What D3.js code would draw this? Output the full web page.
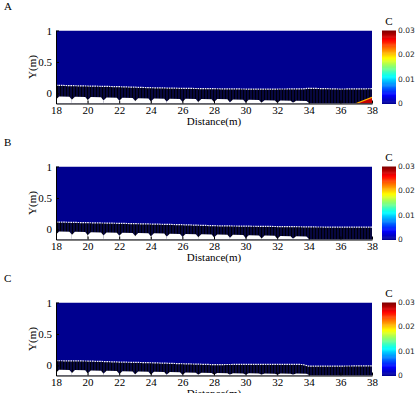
<!DOCTYPE html>
<html>
<head>
<meta charset="utf-8">
<script src="https://cdn.jsdelivr.net/npm/d3@7"></script>
<style>
  html, body { margin: 0; padding: 0; background: #fff; }
  svg { display: block; }
</style>
</head>
<body>
<svg id="chart" width="417" height="393"></svg>
<script>
// ---------------- data ----------------
const panelNames = ["A", "B", "C"];
const distTicks = [18, 20, 22, 24, 26, 28, 30, 32, 34, 36, 38];
const yTicks = [0, 0.5, 1];
const cTicks = [0, 0.01, 0.02, 0.03];
const cTickLabels = ["0", "0.01", "0.02", "0.03"];

// bed surface (white dotted line)
const surfX = [18, 20, 22, 24, 26, 28, 30, 32, 33.6, 34, 36, 38];
const surfA = [0.129, 0.118, 0.107, 0.091, 0.081, 0.075, 0.070, 0.070, 0.072, 0.082, 0.070, 0.075];
const surfB = [0.118, 0.107, 0.097, 0.086, 0.075, 0.059, 0.052, 0.046, 0.042, 0.040, 0.036, 0.036];
const surfC = [0.075, 0.070, 0.054, 0.043, 0.027, 0.013, 0.017, 0.017, 0.015, -0.010, -0.010, -0.006];

// ripples (white, below the sediment layer): start of each ripple and crest level
const rippleX = [18, 19, 20, 21, 22, 23, 24, 25, 26, 27, 28, 29, 30, 31, 32, 33];
const crestA = [-0.052, -0.057, -0.062, -0.068, -0.073, -0.079, -0.084, -0.087, -0.090, -0.092, -0.094, -0.100, -0.106, -0.112, -0.116, -0.120];
const crestB = [-0.037, -0.042, -0.047, -0.052, -0.057, -0.062, -0.066, -0.071, -0.075, -0.080, -0.084, -0.090, -0.096, -0.102, -0.107, -0.112];
const crestC = [-0.073, -0.078, -0.084, -0.089, -0.095, -0.100, -0.105, -0.110, -0.115, -0.121, -0.126, -0.128, -0.130, -0.131, -0.132, -0.133];
const troughDrop = 0.045;

// concentration hot spot in panel A (bottom right)
const spotX = [37.0, 38.0, 38.0];
const spotY = [-0.16, -0.062, -0.16];
const spotC = 0.028;

const surfaces = [surfA, surfB, surfC];
const crests = [crestA, crestB, crestC];

// ---------------- layout ----------------
const svg = d3.select("#chart");
const plotLeft = 56, plotRight = 372, plotH = 73;
const panelTops = [30.5, 166.5, 302.5];
const yMin = -0.16, yMax = 1;
const cbX = 382, cbW = 14;
const serif = "'Liberation Serif', 'Times New Roman', serif";

// jet colormap
const jetStops = [[0,0,143],[0,0,255],[0,255,255],[255,255,0],[255,0,0],[128,0,0]];
const jetPos = [0, 1/8, 3/8, 5/8, 7/8, 1];
const cScale = d3.scaleLinear().domain([0, 0.03]).range([0, 1]).clamp(true);
const jetInterp = d3.scaleLinear().domain(jetPos).range(jetStops.map(c => `rgb(${c[0]},${c[1]},${c[2]})`)).interpolate(d3.interpolateRgb);
const color = v => jetInterp(cScale(v));

const defs = svg.append("defs");
const pat = defs.append("pattern").attr("id", "sed").attr("patternUnits", "userSpaceOnUse")
  .attr("width", 3).attr("height", 4);
pat.append("rect").attr("width", 3).attr("height", 4).attr("fill", "#07073f");
pat.append("rect").attr("width", 1).attr("height", 4).attr("fill", "#000008");

const x = d3.scaleLinear().domain([18, 38]).range([plotLeft, plotRight]);

panelNames.forEach((name, i) => {
  const top = panelTops[i];
  const bottom = top + plotH;
  const y = d3.scaleLinear().domain([yMin, yMax]).range([bottom, top]);
  const g = svg.append("g");

  defs.append("clipPath").attr("id", "clip" + i)
    .append("rect").attr("x", plotLeft).attr("y", top).attr("width", plotRight - plotLeft).attr("height", plotH);
  const pg = g.append("g").attr("clip-path", `url(#clip${i})`);

  // background: C = 0
  pg.append("rect").attr("x", x(18)).attr("y", y(yMax))
    .attr("width", x(38) - x(18)).attr("height", y(yMin) - y(yMax)).attr("fill", color(0));

  // sediment layer below the bed surface
  const surf = surfaces[i];
  const surfPts = surfX.map((d, k) => [d, surf[k]]);
  const area = d3.area().x(d => x(d[0])).y0(y(yMin)).y1(d => y(d[1]));
  pg.append("path").datum(surfPts).attr("d", area).attr("fill", "url(#sed)");

  // ripples (white)
  const cr = crests[i];
  rippleX.forEach((rx, k) => {
    const trough = Math.max(cr[k] - troughDrop, yMin + 0.012);
    const pts = [[rx, yMin], [rx, trough], [rx + 0.2, cr[k] + 0.004], [rx + 0.85, cr[k]], [rx + 1, trough], [rx + 1, yMin]];
    pg.append("path")
      .attr("d", d3.line().x(d => x(d[0])).y(d => y(d[1]))(pts) + "Z")
      .attr("fill", "#ffffff");
  });
  pg.append("rect").attr("x", x(18)).attr("y", y(yMin + 0.012))
    .attr("width", x(33.8) - x(18)).attr("height", y(yMin) - y(yMin + 0.012)).attr("fill", "#fff");

  // hot spot in panel A
  if (i === 0) {
    const sp = spotX.map((d, k) => [d, spotY[k]]);
    pg.append("path").attr("d", d3.line().x(d => x(d[0])).y(d => y(d[1]))(sp) + "Z")
      .attr("fill", color(spotC));
    pg.append("path").attr("d", d3.line().x(d => x(d[0])).y(d => y(d[1]))(sp.slice(0, 2)))
      .attr("stroke", color(0.021)).attr("stroke-width", 1.2).attr("fill", "none");
  }

  // bed surface line
  pg.append("path").datum(surfPts)
    .attr("d", d3.line().x(d => x(d[0])).y(d => y(d[1])))
    .attr("fill", "none").attr("stroke", "#f4f4fa").attr("stroke-width", 1.2)
    .attr("stroke-dasharray", "1.6,0.8");

  // axes
  const xAxis = g.append("g").attr("transform", `translate(0,${bottom})`)
    .call(d3.axisBottom(x).tickValues(distTicks).tickFormat(d3.format("d")).tickSizeInner(-3).tickSizeOuter(0).tickPadding(2.5));
  const yAxis = g.append("g").attr("transform", `translate(${plotLeft},0)`)
    .call(d3.axisLeft(y).tickValues(yTicks).tickFormat(d => d === 0.5 ? "0.5" : String(d)).tickSizeInner(-3).tickSizeOuter(0).tickPadding(4));
  [xAxis, yAxis].forEach(a => {
    a.selectAll("text").attr("font-family", serif).attr("font-size", 11).attr("fill", "#000");
    a.selectAll("line").attr("stroke", "#000");
    a.select(".domain").attr("stroke", "#000");
  });

  g.append("text").attr("x", (plotLeft + plotRight) / 2).attr("y", bottom + 21.5)
    .attr("text-anchor", "middle").attr("font-family", serif).attr("font-size", 11)
    .text("Distance(m)");
  g.append("text").attr("transform", `translate(36,${(top + bottom) / 2}) rotate(-90)`)
    .attr("text-anchor", "middle").attr("font-family", serif).attr("font-size", 11)
    .text("Y(m)");

  // panel letter
  g.append("text").attr("x", 4).attr("y", top - 21).attr("font-family", serif)
    .attr("font-size", 11).text(name);

  // colorbar
  const cy = d3.scaleLinear().domain([0, 0.03]).range([bottom, top]);
  const steps = d3.range(0, 64);
  g.append("g").selectAll("rect").data(steps).join("rect")
    .attr("x", cbX).attr("width", cbW)
    .attr("y", d => cy((d + 1) * 0.03 / 64))
    .attr("height", d => cy(d * 0.03 / 64) - cy((d + 1) * 0.03 / 64) + 0.5)
    .attr("fill", d => color((d + 0.5) * 0.03 / 64));
  g.append("g").selectAll("text").data(cTicks).join("text")
    .attr("x", cbX + cbW + 2).attr("y", d => cy(d)).attr("dy", "0.32em")
    .attr("font-family", "'DejaVu Sans', sans-serif").attr("font-size", 7.5).attr("fill", "#222")
    .text((d, k) => cTickLabels[k]);
  g.append("text").attr("x", cbX + cbW / 2).attr("y", top - 6).attr("text-anchor", "middle")
    .attr("font-family", serif).attr("font-size", 11).text("C");
});
</script>
</body>
</html>
